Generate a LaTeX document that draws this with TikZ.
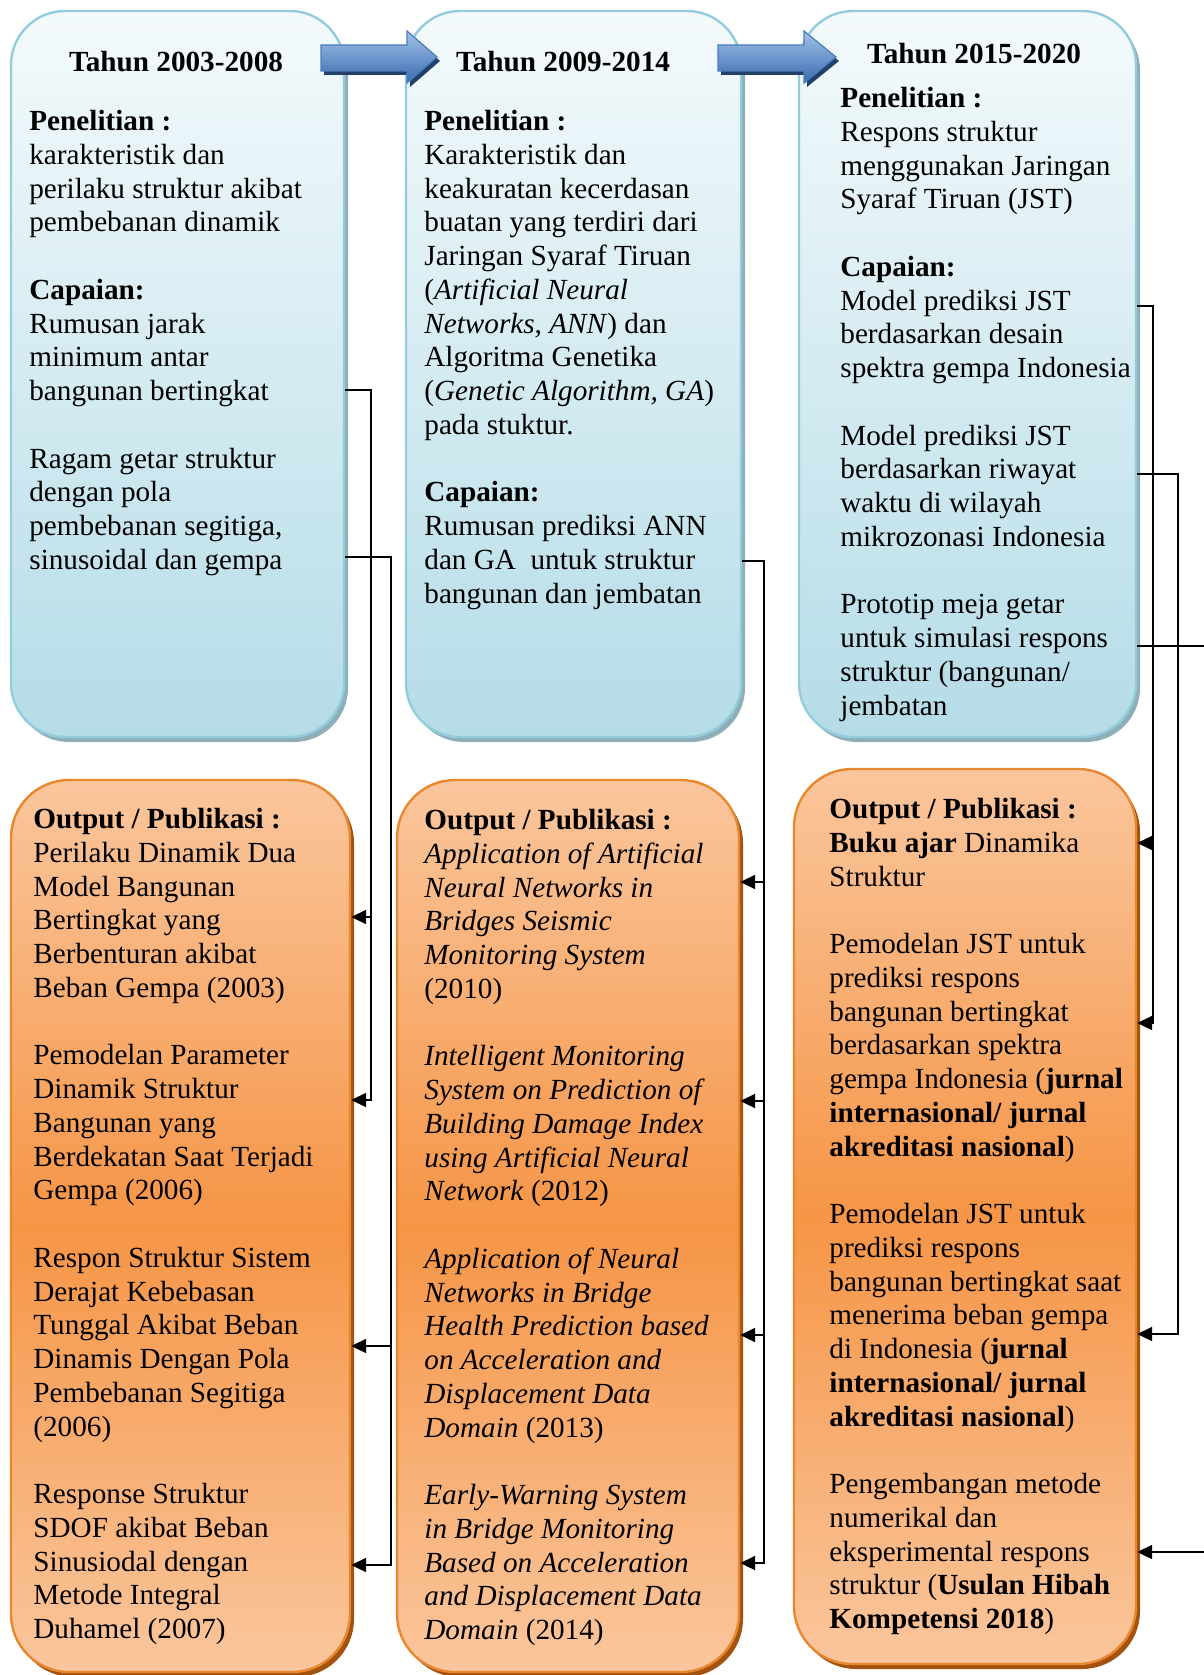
\documentclass[tikz,border=0pt]{standalone}
\usepackage{fontspec}
\setmainfont{Liberation Serif}
\usepackage{xcolor}
\usetikzlibrary{arrows.meta,shadows}

\definecolor{blueTop}{HTML}{F4FAFC}
\definecolor{blueBot}{HTML}{B5DCE7}
\definecolor{blueLine}{HTML}{93CDDD}
\definecolor{blueShade}{HTML}{8FAFB8}
\definecolor{orangeLight}{HTML}{FAC69D}
\definecolor{orangeDark}{HTML}{F69546}
\definecolor{orangeLine}{HTML}{E9872F}
\definecolor{orangeShade}{HTML}{A4520F}
\definecolor{arrowTop}{HTML}{A3C1E8}
\definecolor{arrowBot}{HTML}{3A6CB0}
\definecolor{arrowLine}{HTML}{4A7EBB}
\definecolor{arrowShade}{HTML}{23406A}

\begin{document}
\begin{tikzpicture}[x=0.5pt,y=-0.5pt,
    bluebox/.style={draw=blueLine,line width=1.2pt,rounded corners=27pt,
      top color=blueTop,bottom color=blueBot,inner sep=0pt,
      drop shadow={shadow xshift=2pt,shadow yshift=-2.5pt,fill=blueShade,opacity=1}},
    outbox/.style={draw=orangeLine,line width=1.2pt,rounded corners=29pt,
      top color=orangeLight,bottom color=orangeLight,middle color=orangeDark,inner sep=0pt,
      drop shadow={shadow xshift=2pt,shadow yshift=-2.5pt,fill=orangeShade,opacity=1}},
    head/.style={inner sep=0pt,font=\bfseries\fontsize{14.6}{16.875}\selectfont},
    txt/.style={anchor=north west,align=left,inner sep=0pt,font=\fontsize{14.6}{16.875}\selectfont},
    blockarrow/.style={draw=arrowLine,line width=0.6pt,top color=arrowTop,bottom color=arrowBot,
      drop shadow={shadow xshift=1.5pt,shadow yshift=-2pt,fill=arrowShade,opacity=1}},
    conn/.style={black,line width=1pt},
    tip/.style={conn,-{Triangle[length=7.5pt,width=7pt]}}]

\useasboundingbox (0,0) rectangle (1204,1675);

% research boxes
\node[bluebox,minimum width=166.5pt,minimum height=363pt] (b1) at (177.5,374) {};
\node[bluebox,minimum width=167.5pt,minimum height=363pt] (b2) at (573.5,374) {};
\node[bluebox,minimum width=168.5pt,minimum height=363pt] (b3) at (967.5,374) {};

% output boxes
\node[outbox,minimum width=169.5pt,minimum height=446pt] (o1) at (180.5,1226) {};
\node[outbox,minimum width=171pt,minimum height=446pt] (o2) at (568,1226) {};
\node[outbox,minimum width=171pt,minimum height=447.5pt] (o3) at (965,1216.5) {};

% block arrows between the periods
\path[blockarrow] (321,45) -- (407,45) -- (407,31) -- (437,57) -- (407,83) -- (407,71) -- (321,71) -- cycle;
\path[blockarrow] (718,45) -- (804,45) -- (804,31) -- (836,57) -- (804,83) -- (804,71) -- (718,71) -- cycle;

\node[head] (h1) at (176,62) {Tahun 2003-2008};
\node[head] (h2) at (563,62) {Tahun 2009-2014};
\node[head] (h3) at (974,54) {Tahun 2015-2020};

\node[txt] (t1) at (29,110) {\textbf{Penelitian :}\\
karakteristik dan\\
perilaku struktur akibat\\
pembebanan dinamik\\[16.875pt]
\textbf{Capaian:}\\
Rumusan jarak\\
minimum antar\\
bangunan bertingkat\\[16.875pt]
Ragam getar struktur\\
dengan pola\\
pembebanan segitiga,\\
sinusoidal dan gempa};

\node[txt] (t2) at (424,110) {\textbf{Penelitian :}\\
Karakteristik dan\\
keakuratan kecerdasan\\
buatan yang terdiri dari\\
Jaringan Syaraf Tiruan\\
(\textit{Artificial Neural}\\
\textit{Networks, ANN}) dan\\
Algoritma Genetika\\
(\textit{Genetic Algorithm, GA})\\
pada stuktur.\\[16.875pt]
\textbf{Capaian:}\\
Rumusan prediksi ANN\\
dan GA\ \ untuk struktur\\
bangunan dan jembatan};

\node[txt] (t3) at (840,87) {\textbf{Penelitian :}\\
Respons struktur\\
menggunakan Jaringan\\
Syaraf Tiruan (JST)\\[16.875pt]
\textbf{Capaian:}\\
Model prediksi JST\\
berdasarkan desain\\
spektra gempa Indonesia\\[16.875pt]
Model prediksi JST\\
berdasarkan riwayat\\
waktu di wilayah\\
mikrozonasi Indonesia\\[16.875pt]
Prototip meja getar\\
untuk simulasi respons\\
struktur (bangunan/\\
jembatan};

\node[txt] (u1) at (33,808) {\textbf{Output / Publikasi :}\\
Perilaku Dinamik Dua\\
Model Bangunan\\
Bertingkat yang\\
Berbenturan akibat\\
Beban Gempa (2003)\\[16.875pt]
Pemodelan Parameter\\
Dinamik Struktur\\
Bangunan yang\\
Berdekatan Saat Terjadi\\
Gempa (2006)\\[16.875pt]
Respon Struktur Sistem\\
Derajat Kebebasan\\
Tunggal Akibat Beban\\
Dinamis Dengan Pola\\
Pembebanan Segitiga\\
(2006)\\[16.875pt]
Response Struktur\\
SDOF akibat Beban\\
Sinusiodal dengan\\
Metode Integral\\
Duhamel (2007)};

\node[txt] (u2) at (424,809) {\textbf{Output / Publikasi :}\\
\textit{Application of Artificial}\\
\textit{Neural Networks in}\\
\textit{Bridges Seismic}\\
\textit{Monitoring System}\\
(2010)\\[16.875pt]
\textit{Intelligent Monitoring}\\
\textit{System on Prediction of}\\
\textit{Building Damage Index}\\
\textit{using Artificial Neural}\\
\textit{Network} (2012)\\[16.875pt]
\textit{Application of Neural}\\
\textit{Networks in Bridge}\\
\textit{Health Prediction based}\\
\textit{on Acceleration and}\\
\textit{Displacement Data}\\
\textit{Domain} (2013)\\[16.875pt]
\textit{Early-Warning System}\\
\textit{in Bridge Monitoring}\\
\textit{Based on Acceleration}\\
\textit{and Displacement Data}\\
\textit{Domain} (2014)};

\node[txt] (u3) at (829,798) {\textbf{Output / Publikasi :}\\
\textbf{Buku ajar} Dinamika\\
Struktur\\[16.875pt]
Pemodelan JST untuk\\
prediksi respons\\
bangunan bertingkat\\
berdasarkan spektra\\
gempa Indonesia (\textbf{jurnal}\\
\textbf{internasional/ jurnal}\\
\textbf{akreditasi nasional})\\[16.875pt]
Pemodelan JST untuk\\
prediksi respons\\
bangunan bertingkat saat\\
menerima beban gempa\\
di Indonesia (\textbf{jurnal}\\
\textbf{internasional/ jurnal}\\
\textbf{akreditasi nasional})\\[16.875pt]
Pengembangan metode\\
numerikal dan\\
eksperimental respons\\
struktur (\textbf{Usulan Hibah}\\
\textbf{Kompetensi 2018})};

% connectors from achievements to outputs
\coordinate (fOut) at (1204,646);
\coordinate (fIn) at (1204,1552);

\draw[tip] (b1.east |- 0,390) -| (371,1100) -- (o1.east |- 0,1100);
\draw[tip] (371,917) -- (o1.east |- 0,917);
\draw[tip] (b1.east |- 0,557) -| (391,1565) -- (o1.east |- 0,1565);
\draw[tip] (391,1346) -- (o1.east |- 0,1346);

\draw[tip] (b2.east |- 0,561) -| (764,1563) -- (o2.east |- 0,1563);
\draw[tip] (764,882) -- (o2.east |- 0,882);
\draw[tip] (764,1101) -- (o2.east |- 0,1101);
\draw[tip] (764,1335) -- (o2.east |- 0,1335);

\draw[tip] (b3.east |- 0,306) -| (1153,1023) -- (o3.east |- 0,1023);
\draw[tip] (1153,843) -- (o3.east |- 0,843);
\draw[tip] (b3.east |- 0,474) -| (1178,1334) -- (o3.east |- 0,1334);
\draw[conn] (b3.east |- fOut) -- (fOut);
\draw[tip] (fIn) -- (o3.east |- fIn);

\end{tikzpicture}
\end{document}
